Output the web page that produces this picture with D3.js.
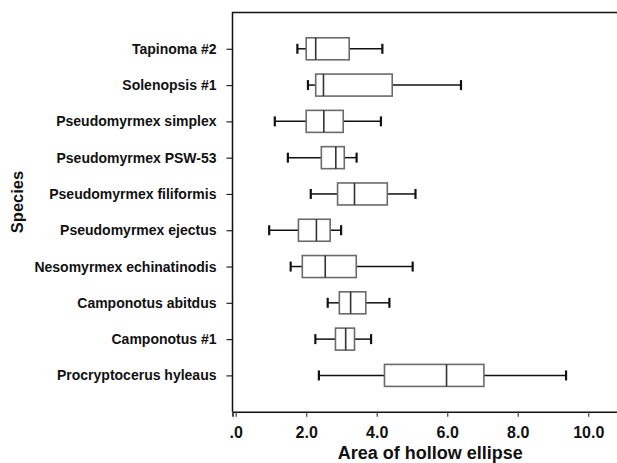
<!DOCTYPE html>
<html>
<head>
<meta charset="utf-8">
<script src="https://cdn.jsdelivr.net/npm/d3@7"></script>
<style>
  body { margin: 0; background: #fff; }
  svg { display: block; font-family: "Liberation Sans", Arial, Helvetica, sans-serif; font-weight: bold; }
</style>
</head>
<body>
<svg id="chart"></svg>
<script>
const species = [
  "Tapinoma #2",
  "Solenopsis #1",
  "Pseudomyrmex simplex",
  "Pseudomyrmex PSW-53",
  "Pseudomyrmex filiformis",
  "Pseudomyrmex ejectus",
  "Nesomyrmex echinatinodis",
  "Camponotus abitdus",
  "Camponotus #1",
  "Procryptocerus hyleaus",
];
const whiskerLow = [1.75, 2.05, 1.11, 1.48, 2.13, 0.95, 1.56, 2.61, 2.26, 2.36];
const q1 = [2.0, 2.27, 2.0, 2.43, 2.89, 1.78, 1.89, 2.94, 2.83, 4.22];
const median = [2.27, 2.49, 2.5, 2.84, 3.37, 2.29, 2.54, 3.26, 3.12, 5.98];
const q3 = [3.22, 4.44, 3.05, 3.08, 4.3, 2.68, 3.42, 3.69, 3.37, 7.04];
const whiskerHigh = [4.16, 6.39, 4.12, 3.43, 5.1, 2.99, 5.02, 4.36, 3.84, 9.37];

const xTicks = [0, 2, 4, 6, 8, 10];
const xTickLabels = [".0", "2.0", "4.0", "6.0", "8.0", "10.0"];

const width = 617;
const height = 463;
const margin = { top: 12.5, right: -3, bottom: 51.3, left: 232.5 };

const rows = species.map((s, i) => ({
  name: s,
  lo: whiskerLow[i],
  q1: q1[i],
  med: median[i],
  q3: q3[i],
  hi: whiskerHigh[i],
}));

const svg = d3.select("#chart").attr("width", width).attr("height", height);

const x = d3
  .scaleLinear()
  .domain([-0.09, 10.9])
  .range([margin.left, width - margin.right]);

const y = d3
  .scalePoint()
  .domain(species)
  .range([margin.top, height - margin.bottom])
  .padding(1);

const boxH = 22;
const capH = 10;

// frame: top + left lines (right side runs off the picture)
svg
  .append("path")
  .attr("d", `M${width - margin.right},${margin.top}H${margin.left}V${height - margin.bottom}`)
  .attr("fill", "none")
  .attr("stroke", "#111")
  .attr("stroke-width", 1.5);

// x axis
const xAxis = svg
  .append("g")
  .attr("transform", `translate(0,${height - margin.bottom})`)
  .call(
    d3
      .axisBottom(x)
      .tickValues(xTicks)
      .tickSize(5)
      .tickFormat((d, i) => xTickLabels[i])
  );
xAxis.select(".domain").attr("stroke", "#111").attr("stroke-width", 1.5);
xAxis.selectAll(".tick line").attr("stroke", "#444").attr("stroke-width", 1.2);
xAxis
  .selectAll(".tick text")
  .attr("font-size", 16)
  .attr("font-family", null)
  .attr("fill", "#111")
  .attr("dy", "1.15em");

// y axis
const yAxis = svg
  .append("g")
  .attr("transform", `translate(${margin.left},0)`)
  .call(d3.axisLeft(y).tickSize(6).tickPadding(10));
yAxis.select(".domain").remove();
yAxis.selectAll(".tick line").attr("stroke", "#222").attr("stroke-width", 1.2);
yAxis
  .selectAll(".tick text")
  .attr("font-size", 14)
  .attr("font-family", null)
  .attr("fill", "#111");

// boxes
const g = svg
  .append("g")
  .selectAll("g")
  .data(rows)
  .join("g")
  .attr("transform", (d) => `translate(0,${y(d.name)})`);

// whiskers
g.append("line")
  .attr("x1", (d) => x(d.lo))
  .attr("x2", (d) => x(d.q1))
  .attr("stroke", "#111")
  .attr("stroke-width", 1.5);
g.append("line")
  .attr("x1", (d) => x(d.q3))
  .attr("x2", (d) => x(d.hi))
  .attr("stroke", "#111")
  .attr("stroke-width", 1.5);
g.selectAll(".cap")
  .data((d) => [d.lo, d.hi])
  .join("line")
  .attr("class", "cap")
  .attr("x1", (v) => x(v))
  .attr("x2", (v) => x(v))
  .attr("y1", -capH / 2)
  .attr("y2", capH / 2)
  .attr("stroke", "#111")
  .attr("stroke-width", 2.2);

g.append("rect")
  .attr("x", (d) => x(d.q1))
  .attr("y", -boxH / 2)
  .attr("width", (d) => x(d.q3) - x(d.q1))
  .attr("height", boxH)
  .attr("fill", "#fff")
  .attr("stroke", "#6a6a6a")
  .attr("stroke-width", 1.6);

g.append("line")
  .attr("x1", (d) => x(d.med))
  .attr("x2", (d) => x(d.med))
  .attr("y1", -boxH / 2)
  .attr("y2", boxH / 2)
  .attr("stroke", "#333")
  .attr("stroke-width", 1.6);

// axis titles
svg
  .append("text")
  .attr("x", (margin.left + width - margin.right) / 2 + 4)
  .attr("y", 459)
  .attr("text-anchor", "middle")
  .attr("font-size", 18)
  .attr("fill", "#111")
  .text("Area of hollow ellipse");

svg
  .append("text")
  .attr("transform", `translate(23,202) rotate(-90)`)
  .attr("text-anchor", "middle")
  .attr("font-size", 16.5)
  .attr("fill", "#111")
  .text("Species");
</script>
</body>
</html>
